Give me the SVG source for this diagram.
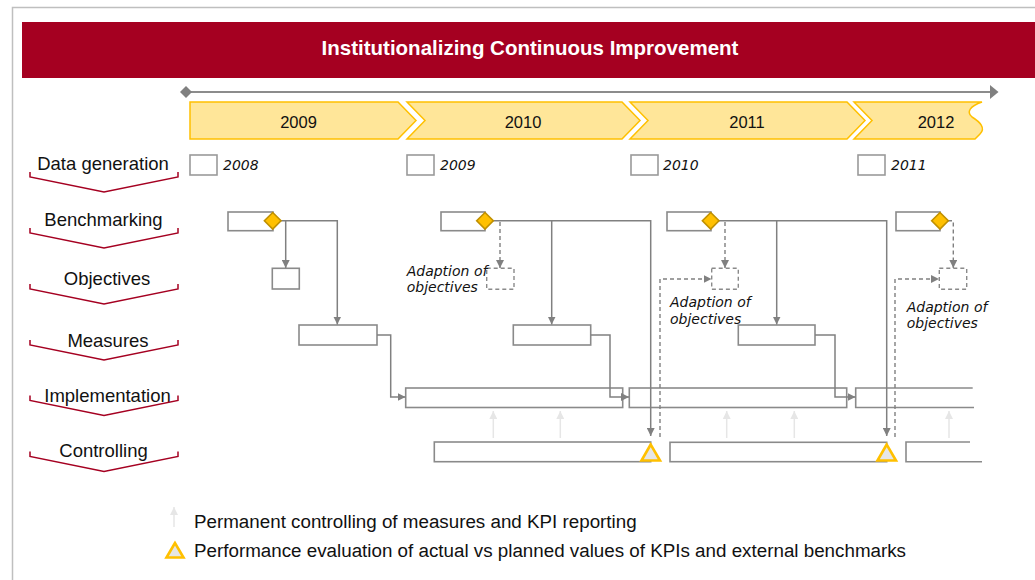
<svg xmlns="http://www.w3.org/2000/svg" width="1035" height="580" viewBox="0 0 1035 580">
<defs>
<style>
.box{fill:#fff;stroke:#8a8a8a;stroke-width:1.6}
.dbox{fill:#fff;stroke:#8a8a8a;stroke-width:1.4;stroke-dasharray:4 3}
.open{fill:none;stroke:#8a8a8a;stroke-width:1.6}
.dg{fill:#fff;stroke:#9a9a9a;stroke-width:1.6}
.dia{fill:#FFC000;stroke:#C09000;stroke-width:1.6}
.tri{fill:#E6E6E6;stroke:#FFC000;stroke-width:2.6;stroke-linejoin:miter}
.con{fill:none;stroke:#808080;stroke-width:1.5}
.dcon{fill:none;stroke:#808080;stroke-width:1.4;stroke-dasharray:4 3}
.lcon{fill:none;stroke:#E6E6E6;stroke-width:1.5}
.chev{fill:#FFE699;stroke:#FFC000;stroke-width:1.5}
.brk{fill:none;stroke:#A50021;stroke-width:1.5}
.lbl{font-family:"Liberation Sans",Arial,sans-serif;font-size:18.5px;fill:#111;text-anchor:middle}
.yr{font-family:"Liberation Sans",Arial,sans-serif;font-size:16.5px;fill:#111;text-anchor:middle}
.it{font-family:"DejaVu Sans",Verdana,sans-serif;font-style:italic;font-size:14px;fill:#111}
.leg{font-family:"Liberation Sans",Arial,sans-serif;font-size:18.8px;fill:#111}
</style>
<marker id="ar" markerUnits="userSpaceOnUse" markerWidth="9" markerHeight="8" refX="8" refY="4" orient="auto">
<path d="M0,0 L8,4 L0,8 Z" fill="#808080"/>
</marker>
<marker id="arl" markerUnits="userSpaceOnUse" markerWidth="9" markerHeight="8" refX="8" refY="4" orient="auto">
<path d="M0,0 L8,4 L0,8 Z" fill="#E6E6E6"/>
</marker>
</defs>

<rect x="0" y="0" width="1035" height="580" fill="#fff"/>
<rect x="12.5" y="7.5" width="1040" height="600" fill="none" stroke="#BFBFBF" stroke-width="1.5"/>

<g id="header">
<rect x="22" y="22" width="1020" height="56" fill="#A50021"/>
<text x="530" y="55" font-family="'Liberation Sans',Arial,sans-serif" font-size="20.5" font-weight="bold" fill="#fff" text-anchor="middle">Institutionalizing Continuous Improvement</text>
</g>

<g id="timeline">
<line x1="186" y1="92" x2="991" y2="92" stroke="#8c8c8c" stroke-width="2"/>
<polygon points="186,86 192,92 186,98 180,92" fill="#808080"/>
<polygon points="990,85 998.5,92 990,99" fill="#808080"/>
</g>

<g id="years">
<path class="chev" d="M190,102 H398 L416,120.5 L398,139 H190 Z"/>
<path class="chev" d="M407,102 H622 L640,120.5 L622,139 H407 L425,120.5 Z"/>
<path class="chev" d="M630,102 H847 L865,120.5 L847,139 H630 L648,120.5 Z"/>
<path class="chev" d="M854,102 H982 C970,106 966,112 972,117 C980,122 986,128 980,134 L975,139 H854 L872,120.5 Z"/>
<text class="yr" x="298.5" y="127.5">2009</text>
<text class="yr" x="523" y="127.5">2010</text>
<text class="yr" x="747" y="127.5">2011</text>
<text class="yr" x="936" y="127.5">2012</text>
</g>

<g id="row-labels">
<text class="lbl" x="103" y="170">Data generation</text>
<path class="brk" d="M30,172 V177 L104,192 L178,177 V172"/>
<text class="lbl" x="103.5" y="226">Benchmarking</text>
<path class="brk" d="M30,228 V233 L104,248 L178,233 V228"/>
<text class="lbl" x="107" y="285">Objectives</text>
<path class="brk" d="M30,284 V289 L104,304 L178,289 V284"/>
<text class="lbl" x="108" y="347">Measures</text>
<path class="brk" d="M30,340 V345 L104,360 L178,345 V340"/>
<text class="lbl" x="107.5" y="401.5">Implementation</text>
<path class="brk" d="M30,395.5 V400.5 L104,415.5 L178,400.5 V395.5"/>
<text class="lbl" x="103.5" y="456.5">Controlling</text>
<path class="brk" d="M30,451.5 V456.5 L104,471.5 L178,456.5 V451.5"/>
</g>

<g id="data-generation">
<rect class="dg" x="190" y="155" width="27" height="20"/>
<text class="it" x="223" y="170" font-size="14.5">2008</text>
<rect class="dg" x="407" y="155" width="27" height="20"/>
<text class="it" x="440" y="170" font-size="14.5">2009</text>
<rect class="dg" x="631" y="155" width="27" height="20"/>
<text class="it" x="663" y="170" font-size="14.5">2010</text>
<rect class="dg" x="858" y="155" width="27" height="20"/>
<text class="it" x="891" y="170" font-size="14.5">2011</text>
</g>

<g id="cycle-2009">
<rect class="box" x="228" y="212" width="45" height="18.7"/>
<rect class="box" x="272.3" y="268.3" width="27" height="20.7"/>
<rect class="box" x="299" y="325" width="78" height="20"/>
<rect class="box" x="405.7" y="388" width="217" height="19.5"/>
<rect class="box" x="434.3" y="442" width="216.4" height="19.7"/>
</g>

<g id="cycle-2010">
<rect class="box" x="441" y="212" width="44" height="18.7"/>
<rect class="dbox" x="486.7" y="268.3" width="27.3" height="21"/>
<rect class="box" x="513.3" y="325" width="77.4" height="20"/>
<rect class="box" x="629.3" y="388" width="217.4" height="19.5"/>
<rect class="box" x="670" y="442.3" width="216.7" height="19.4"/>
</g>

<g id="cycle-2011">
<rect class="box" x="667" y="212" width="44" height="18.7"/>
<rect class="dbox" x="711.7" y="268.3" width="26.6" height="21"/>
<rect class="box" x="738.3" y="325" width="76.7" height="20"/>
<path class="open" d="M972.7,388 H855.7 V407.5 H974"/>
<path class="open" d="M970,442 H906 V461.7 H982"/>
</g>

<g id="cycle-2012">
<rect class="box" x="896" y="212" width="44" height="18.7"/>
<rect class="dbox" x="939.3" y="268.3" width="27.4" height="21"/>
</g>

<g id="connectors">
<path class="con" d="M281,220.7 H337.3 V324.5" marker-end="url(#ar)"/>
<path class="con" d="M285.7,220.7 V268" marker-end="url(#ar)"/>
<path class="con" d="M377,335 H390.7 V397 H405.5" marker-end="url(#ar)"/>

<path class="con" d="M493,220.7 H650.7 V436" marker-end="url(#ar)"/>
<path class="con" d="M551.7,220.7 V324.5" marker-end="url(#ar)"/>
<path class="dcon" d="M500,222 V268" marker-end="url(#ar)"/>
<path class="con" d="M590.7,335 H610 V397 H629" marker-end="url(#ar)"/>

<path class="con" d="M718.7,220.7 H886.7 V436" marker-end="url(#ar)"/>
<path class="con" d="M776.7,220.7 V324.5" marker-end="url(#ar)"/>
<path class="dcon" d="M725,222 V268" marker-end="url(#ar)"/>
<path class="con" d="M815,335 H835 V397 H855.5" marker-end="url(#ar)"/>
<path class="dcon" d="M660,437 V279 H711.5" marker-end="url(#ar)"/>

<path class="dcon" d="M948,220.7 H953.3 V268" marker-end="url(#ar)"/>
<path class="dcon" d="M895,437 V279 H939" marker-end="url(#ar)"/>

<path class="lcon" d="M493.3,438 V411" marker-end="url(#arl)"/>
<path class="lcon" d="M560.3,438 V411" marker-end="url(#arl)"/>
<path class="lcon" d="M726.7,438 V411" marker-end="url(#arl)"/>
<path class="lcon" d="M794.3,438 V411" marker-end="url(#arl)"/>
<path class="lcon" d="M949,438 V411" marker-end="url(#arl)"/>
</g>

<g id="diamonds">
<polygon class="dia" points="272.7,212.5 281,220.7 272.7,229 264.4,220.7"/>
<polygon class="dia" points="485,212.5 493.3,220.7 485,229 476.7,220.7"/>
<polygon class="dia" points="710.7,212.5 719,220.7 710.7,229 702.4,220.7"/>
<polygon class="dia" points="940,212.5 948.3,220.7 940,229 931.7,220.7"/>
</g>

<g id="evaluations">
<polygon class="tri" points="650.7,444.5 641.5,460.5 660,460.5"/>
<polygon class="tri" points="886.7,444.5 877.5,460.5 896,460.5"/>
</g>

<g id="adaption-labels">
<text class="it" x="406.7" y="276">Adaption of</text>
<text class="it" x="406.7" y="291.7">objectives</text>
<text class="it" x="670" y="307.3">Adaption of</text>
<text class="it" x="670" y="324">objectives</text>
<text class="it" x="906.7" y="311.7">Adaption of</text>
<text class="it" x="906.7" y="328.3">objectives</text>
</g>

<g id="legend">
<path class="lcon" d="M174,527 V507" marker-end="url(#arl)"/>
<text class="leg" x="194" y="527.5">Permanent controlling of measures and KPI reporting</text>
<polygon class="tri" points="175,543 166.5,557.5 183.5,557.5"/>
<text class="leg" x="194" y="557">Performance evaluation of actual vs planned values of KPIs and external benchmarks</text>
</g>
</svg>
